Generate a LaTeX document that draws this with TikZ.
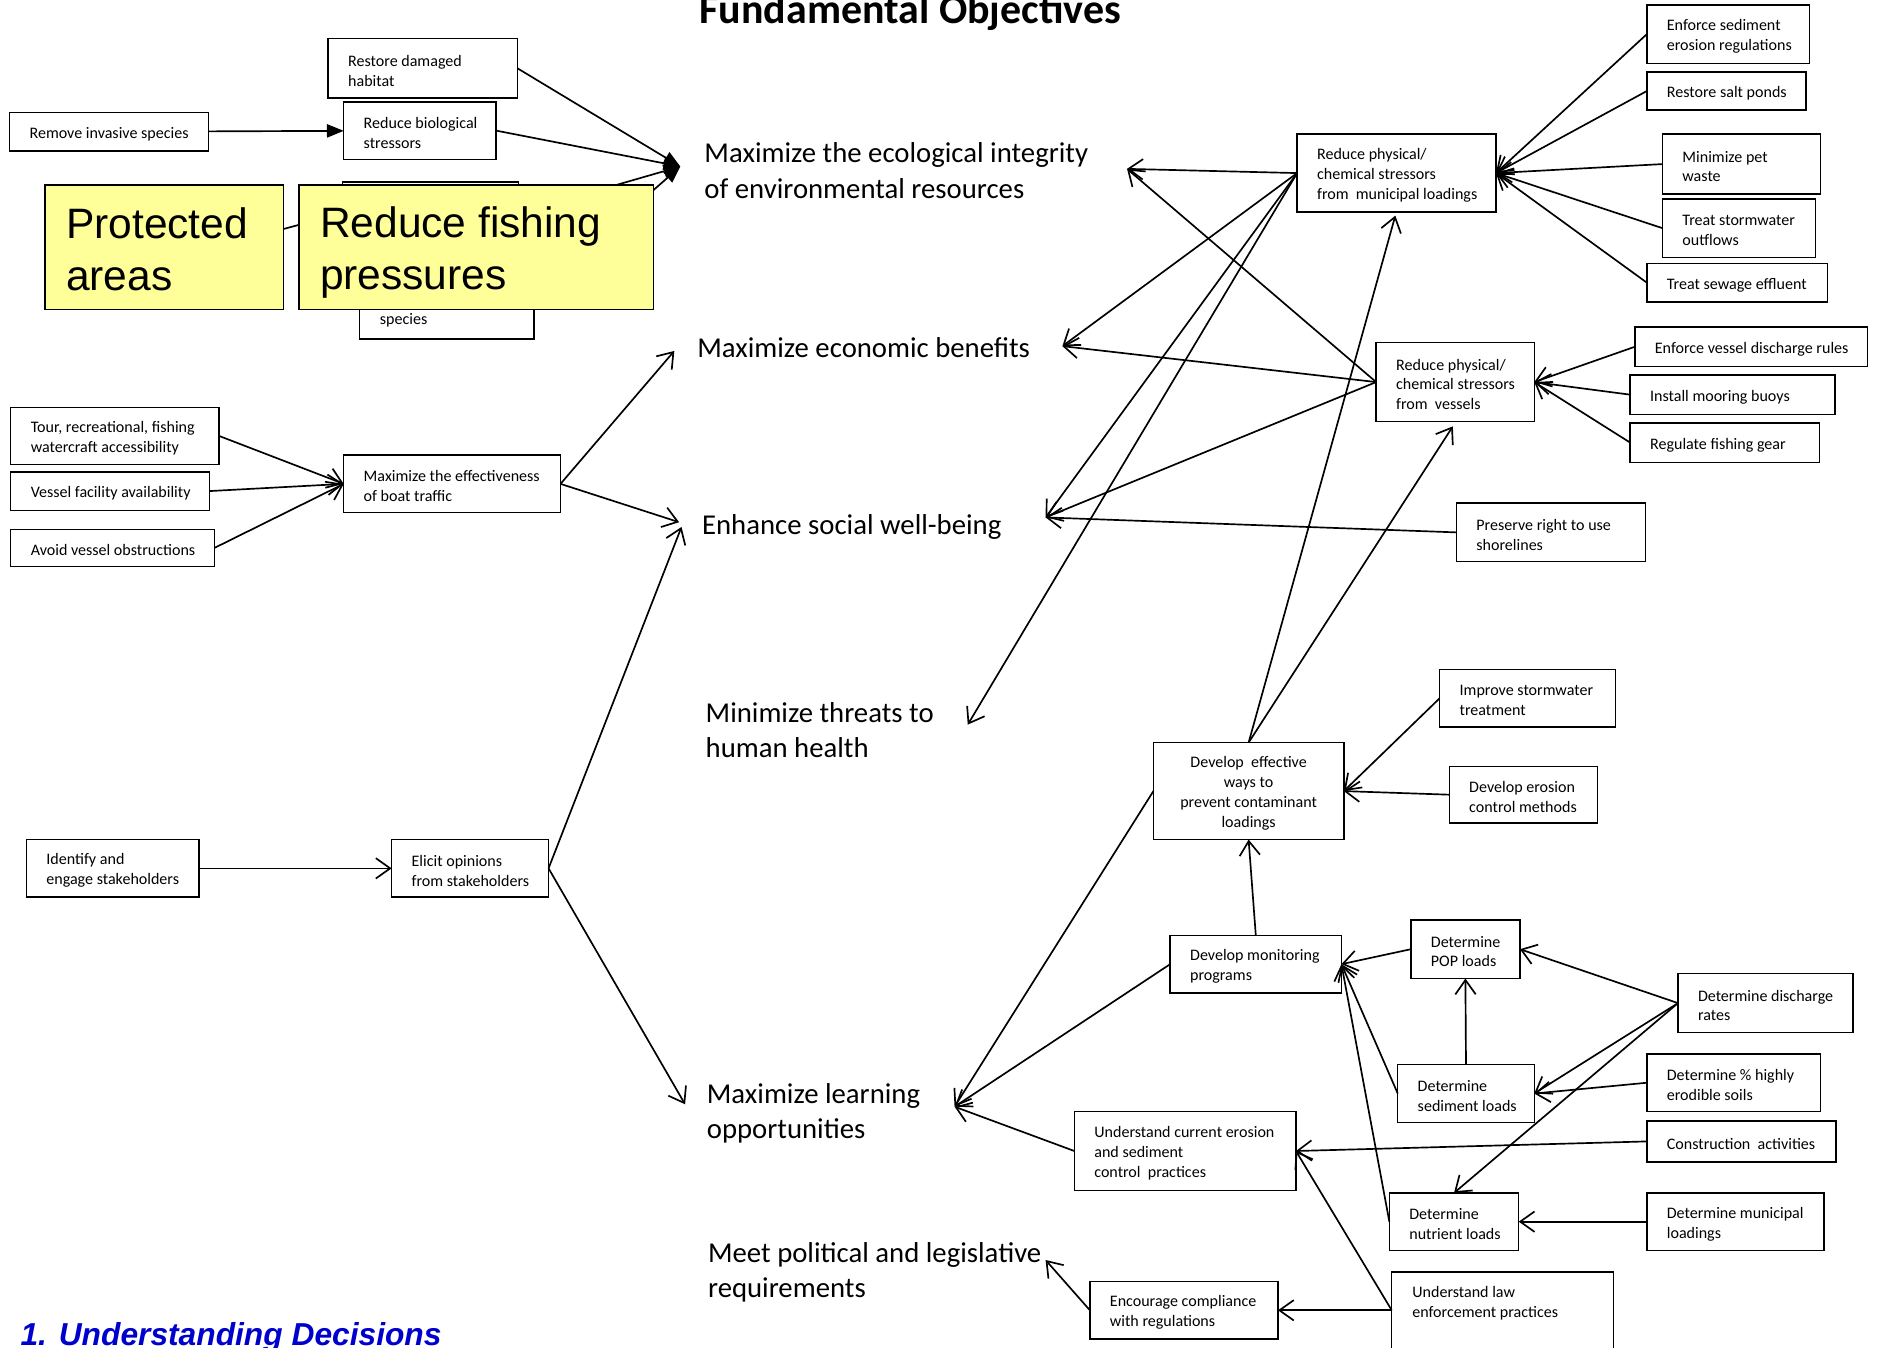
\documentclass[tikz,border=0pt]{standalone}
\usepackage{fontspec}
\setmainfont{Carlito}
\newfontfamily\arialf{Liberation Sans}
\usetikzlibrary{arrows.meta,calc}
\definecolor{yelfill}{RGB}{255,255,153}
\definecolor{udblue}{RGB}{0,0,204}
\newcommand\boxat[6]{%
  \node[bxs, minimum width={(#4-#2)*1pt}, minimum height={(#5-#3)*1pt}] (#1) at (#2,#3) {};
  \node[bxt, anchor=west] (#1t) at ($(#1.west)+(16.5,2)$) {#6};}
\newcommand\rectat[5]{%
  \node[bxs, minimum width={(#4-#2)*1pt}, minimum height={(#5-#3)*1pt}] (#1) at (#2,#3) {};}
\tikzset{
  bxs/.style={draw, line width=1.2pt, anchor=north west, inner sep=0pt, outer sep=0pt, fill=white},
  bxt/.style={inner sep=0pt, align=left, font=\fontsize{13.4}{16.6}\selectfont},
  obj/.style={inner sep=0pt, anchor=base west, font=\fontsize{24}{29.5}\selectfont},
  con/.style={line width=1.4pt, -{Straight Barb[length=12pt,width=17pt]}},
  fcon/.style={line width=1.4pt, -{Triangle[length=14pt,width=11pt]}},
  ylw/.style={draw, line width=1.2pt, fill=yelfill, anchor=north west, inner sep=0pt},
  ytxt/.style={inner sep=0pt, align=left, anchor=west, font=\arialf\fontsize{35.5}{43}\selectfont},
}
\begin{document}
\begin{tikzpicture}[x=1pt,y=-1pt]
\fill[white] (0,0) rectangle (1568,1125);
\useasboundingbox (0,0) rectangle (1568,1125);

% title
\node[inner sep=0pt, anchor=base, font=\fontsize{35}{40}\selectfont\bfseries] (title) at (760,20) {Fundamental Objectives};

% objectives
\node[obj] (o1a) at (588,136) {Maximize the ecological integrity};
\node[obj] (o1b) at (588,165.5) {of environmental resources};
\node[obj] (o2) at (582,298.5) {Maximize economic benefits};
\node[obj] (o3) at (586,446) {Enhance social well-being};
\node[obj] (o4a) at (589,603) {Minimize threats to};
\node[obj] (o4b) at (589,632.5) {human health};
\node[obj] (o5a) at (590,921) {Maximize learning};
\node[obj] (o5b) at (590,950.5) {opportunities};
\node[obj] (o6a) at (591,1054) {Meet political and legislative};
\node[obj] (o6b) at (591,1083.5) {requirements};

\node[inner sep=0pt, anchor=base west, text=udblue, font=\arialf\bfseries\itshape\fontsize{26.5}{30}\selectfont] (ud) at (17,1123) {1. Understanding Decisions};

% objective arrow tips
\coordinate (tipA) at (568,139);
\coordinate (econL) at (563,293);
\coordinate (socL) at (567,436);
\coordinate (socL2) at (569,440);
\coordinate (learnL) at (572,922);
\coordinate (ecoR) at (941,141);
\coordinate (econR) at (887,289);
\coordinate (socR) at (873,432);
\coordinate (thrR) at (808,605);
\coordinate (learnR) at (797,924);
\coordinate (polR) at (873,1052);
\coordinate (muniB) at (1165,180);
\coordinate (vessB) at (1213,356);
\coordinate (hidC) at (200,201);

% top-left cluster
\boxat{restore}{274}{32}{432}{82}{Restore damaged\\habitat}
\boxat{biol}{287}{85}{414}{133}{Reduce biological\\stressors}
\boxat{invasive}{8}{94}{174}{126}{Remove invasive species}
\rectat{hidA}{286}{152}{433}{204}
\rectat{hidB}{300}{210}{446}{283}
\node[bxt, anchor=base west] (spec) at (317,271) {species};

\draw[fcon] (invasive) -- (biol);
\draw[fcon] (restore.east) -- (tipA);
\draw[fcon] (biol.east) -- (tipA);
\draw[fcon] (hidA.east) -- (tipA);
\draw[fcon] (hidB.east) -- (tipA);
\draw[con] (hidC) -- (hidA.west);

% yellow overlays
\node[ylw, minimum width=199pt, minimum height=104pt] (prot) at (37,154) {};
\node[ytxt] (prott) at (55,208) {Protected\\areas};
\node[ylw, minimum width=296pt, minimum height=104pt] (fish) at (249,154) {};
\node[ytxt] (fisht) at (267,211) {Reduce fishing\\pressures};

% boat traffic
\boxat{tour}{9}{340}{183}{388}{Tour, recreational, fishing\\watercraft accessibility}
\boxat{vfac}{9}{394}{175}{426}{Vessel facility availability}
\boxat{avoid}{9}{442}{179}{473}{Avoid vessel obstructions}
\boxat{boat}{287}{380}{468}{428}{Maximize the effectiveness\\of boat traffic}
\draw[con] (tour.east) -- (boat.west);
\draw[con] (vfac.east) -- (boat.west);
\draw[con] (avoid.east) -- (boat.west);
\draw[con] (boat.east) -- (econL);
\draw[con] (boat.east) -- (socL);

% stakeholders
\boxat{ident}{22}{701}{166}{749}{Identify and\\engage stakeholders}
\boxat{elicit}{327}{701}{458}{749}{Elicit opinions\\from stakeholders}
\draw[con] (ident) -- (elicit);
\draw[con] (elicit.east) -- (socL2);
\draw[con] (elicit.east) -- (learnL);

% right top
\boxat{muni}{1083}{112}{1249}{177}{Reduce physical/\\chemical stressors\\from\ \ municipal loadings}
\boxat{esed}{1375}{4}{1511}{53}{Enforce sediment\\erosion regulations}
\boxat{salt}{1375}{60}{1508}{92}{Restore salt ponds}
\boxat{pet}{1388}{112}{1520}{162}{Minimize pet\\waste}
\boxat{storm}{1388}{166}{1516}{215}{Treat stormwater\\outflows}
\boxat{sewage}{1375}{220}{1526}{252}{Treat sewage effluent}
\boxat{vess}{1149}{286}{1281}{352}{Reduce physical/\\chemical stressors\\from\ \ vessels}
\boxat{evd}{1365}{273}{1559}{306}{Enforce vessel discharge rules}
\boxat{moor}{1361}{313}{1532}{346}{Install mooring buoys}
\boxat{gear}{1361}{353}{1519}{386}{Regulate fishing gear}
\boxat{pres}{1216}{420}{1374}{469}{Preserve right to use\\shorelines}

\foreach \s in {esed,salt,pet,storm,sewage} \draw[con] (\s.west) -- (muni.east);
\foreach \s in {evd,moor,gear} \draw[con] (\s.west) -- (vess.east);
\foreach \t in {ecoR,econR,socR,thrR} \draw[con] (muni.west) -- (\t);
\foreach \t in {ecoR,econR,socR} \draw[con] (vess.west) -- (\t);
\draw[con] (pres.west) -- (socR);

% contaminant loadings
\node[bxs, minimum width=159pt, minimum height=81pt] (eff) at (963,620) {};
\node[bxt, align=center] (efft) at ($(eff.center)+(0,2)$) {Develop\ \ effective\\ways to\\prevent contaminant\\loadings};
\boxat{improve}{1202}{559}{1349}{607}{Improve stormwater\\treatment}
\boxat{ectl}{1210}{640}{1334}{687}{Develop erosion\\control methods}
\draw[con] (eff.north) -- (muniB);
\draw[con] (eff.north) -- (vessB);
\draw[con] (improve.west) -- (eff.east);
\draw[con] (ectl.west) -- (eff.east);
\draw[con] (eff.west) -- (learnR);

% monitoring
\boxat{mon}{977}{781}{1120}{829}{Develop monitoring\\programs}
\boxat{pop}{1178}{768}{1269}{817}{Determine\\POP loads}
\boxat{disch}{1401}{813}{1547}{862}{Determine discharge\\rates}
\boxat{sed}{1167}{889}{1281}{937}{Determine\\sediment loads}
\boxat{erod}{1375}{880}{1520}{928}{Determine \% highly\\erodible soils}
\boxat{constr}{1375}{936}{1533}{970}{Construction\ \ activities}
\boxat{ucur}{897}{928}{1082}{994}{Understand current erosion\\and sediment\\control\ \ practices}
\boxat{nutr}{1160}{996}{1268}{1044}{Determine\\nutrient loads}
\boxat{munl}{1375}{996}{1523}{1044}{Determine municipal\\loadings}
\node[bxs, minimum width=185pt, minimum height=90pt] (law) at (1162,1062) {};
\node[bxt, anchor=north west] (lawt) at (1179,1074) {Understand law\\enforcement practices};
\coordinate (lawL) at ($(law.north west)+(0,32)$);
\boxat{enc}{910}{1070}{1067}{1118}{Encourage compliance\\with regulations}

\draw[con] (mon.west) -- (learnR);
\draw[con] (ucur.west) -- (learnR);
\draw[con] (mon.north) -- (eff.south);
\draw[con] (pop.west) -- (mon.east);
\draw[con] (sed.west) -- (mon.east);
\draw[con] (nutr.west) -- (mon.east);
\draw[con] (sed.north) -- (pop.south);
\draw[con] (disch.west) -- (pop.east);
\draw[con] (disch.west) -- (sed.east);
\draw[con] (disch.west) -- (nutr.north);
\draw[con] (erod.west) -- (sed.east);
\draw[con] (constr.west) -- (ucur.east);
\draw[con] (munl.west) -- (nutr.east);
\draw[con] (lawL) -- (ucur.east);
\draw[con] (lawL) -- (enc.east);
\draw[con] (enc.west) -- (polR);
\end{tikzpicture}
\end{document}
